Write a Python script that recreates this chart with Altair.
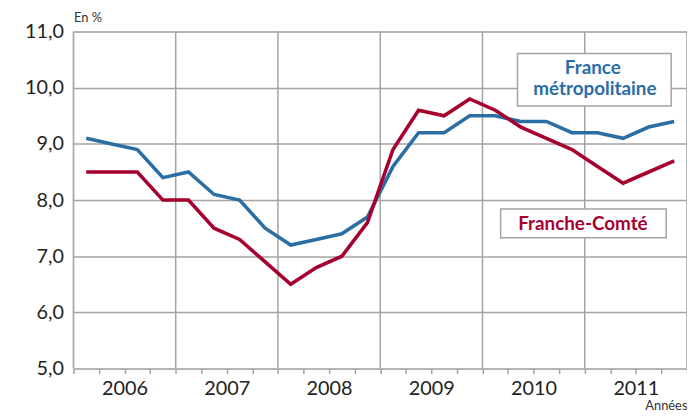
import altair as alt
import pandas as pd

years = [2006, 2007, 2008, 2009, 2010, 2011]
quarters = [1, 2, 3, 4]
france = [9.1, 9.0, 8.9, 8.4, 8.5, 8.1, 8.0, 7.5, 7.2, 7.3, 7.4, 7.7,
          8.6, 9.2, 9.2, 9.5, 9.5, 9.4, 9.4, 9.2, 9.2, 9.1, 9.3, 9.4]
comte = [8.5, 8.5, 8.5, 8.0, 8.0, 7.5, 7.3, 6.9, 6.5, 6.8, 7.0, 7.6,
         8.9, 9.6, 9.5, 9.8, 9.6, 9.3, 9.1, 8.9, 8.6, 8.3, 8.5, 8.7]
year_bounds = [2006, 2007, 2008, 2009, 2010, 2011, 2012]
y_ticks = [5, 6, 7, 8, 9, 10, 11]

BLUE = "#2a6ea4"
RED = "#a6002f"
GRID = "#a3a3a3"
FONT = "Lato"

t = [y + (q - 0.5) / 4 for y in years for q in quarters]
df = pd.DataFrame({
    "t": t * 2,
    "v": france + comte,
    "s": ["France métropolitaine"] * len(t) + ["Franche-Comté"] * len(t),
})
bounds = pd.DataFrame({"t": year_bounds})
qticks = [y + q / 4 for y in years for q in range(4)] + [2012]

W, H = 619, 340

xscale = alt.Scale(domain=[2006, 2012], nice=False, zero=False)
yscale = alt.Scale(domain=[5, 11], nice=False, zero=False)

xaxis = alt.Axis(values=qticks, grid=False, domain=False,
                 tickSize=5, tickColor=GRID, tickWidth=1.5,
                 labelExpr="(datum.value % 1 == 0.5) ? floor(datum.value) : ''",
                 labelFontSize=20, labelColor="#222", labelFont=FONT,
                 labelPadding=5, labelFlush=False, labelOverlap=False,
                 title="Années", titleFont=FONT, titleFontSize=13,
                 titleFontWeight="normal", titleColor="#333",
                 titleAlign="right", titleAnchor="end",
                 titleX=W, titleY=41, titleBaseline="alphabetic")
base_y = alt.Y("v:Q", scale=yscale,
               axis=alt.Axis(values=y_ticks, grid=True, gridColor=GRID, gridWidth=1.5,
                             domain=False, ticks=False, labelPadding=10,
                             labelExpr="replace(format(datum.value, '.1f'), '.', ',')",
                             labelFontSize=20, labelColor="#222", labelFont=FONT,
                             title="En %", titleFont=FONT, titleFontSize=13,
                             titleFontWeight="normal", titleColor="#333",
                             titleAngle=0, titleAlign="left", titleX=0, titleY=-10,
                             titleBaseline="alphabetic"))

vgrid = alt.Chart(bounds).mark_rule(color=GRID, strokeWidth=1.5).encode(
    x=alt.X("t:Q", scale=xscale, axis=xaxis)
)

lines = alt.Chart(df).mark_line(strokeWidth=3.6, strokeJoin="miter").encode(
    x=alt.X("t:Q", scale=xscale, axis=xaxis), y=base_y,
    color=alt.Color("s:N", scale=alt.Scale(domain=["Franche-Comté", "France métropolitaine"],
                                            range=[RED, BLUE]), legend=None),
    order=alt.Order("t:Q"),
    detail="s:N",
)

box1 = alt.Chart(pd.DataFrame({"a": [0]})).mark_rect(
    fill="white", stroke=GRID, strokeWidth=1.5).encode(
    x=alt.value(448), x2=alt.value(603), y=alt.value(22), y2=alt.value(75))
txt1a = alt.Chart(pd.DataFrame({"l": ["France"]})).mark_text(
    font=FONT, fontSize=19, fontWeight="bold", color=BLUE, align="center",
    baseline="alphabetic").encode(text="l:N", x=alt.value(524), y=alt.value(43))
txt1b = alt.Chart(pd.DataFrame({"l": ["métropolitaine"]})).mark_text(
    font=FONT, fontSize=19, fontWeight="bold", color=BLUE, align="center",
    baseline="alphabetic").encode(text="l:N", x=alt.value(526), y=alt.value(64))
box2 = alt.Chart(pd.DataFrame({"a": [0]})).mark_rect(
    fill="white", stroke=GRID, strokeWidth=1.5).encode(
    x=alt.value(431), x2=alt.value(598), y=alt.value(179), y2=alt.value(208))
txt2 = alt.Chart(pd.DataFrame({"l": ["Franche-Comté"]})).mark_text(
    font=FONT, fontSize=19, fontWeight="bold", color=RED, align="center",
    baseline="alphabetic").encode(text="l:N", x=alt.value(514), y=alt.value(200))

chart = alt.layer(vgrid, lines, box1, txt1a, txt1b, box2, txt2).properties(
    width=W, height=H,
    autosize=alt.AutoSizeParams(type="none"),
    padding={"left": 66, "top": 22, "right": 0, "bottom": 42},
).configure_view(
    fill="#fef9d4", stroke=GRID, strokeWidth=1.5
).configure(background="white")

chart.save("out.html", embed_options={"renderer": "svg", "actions": False})
